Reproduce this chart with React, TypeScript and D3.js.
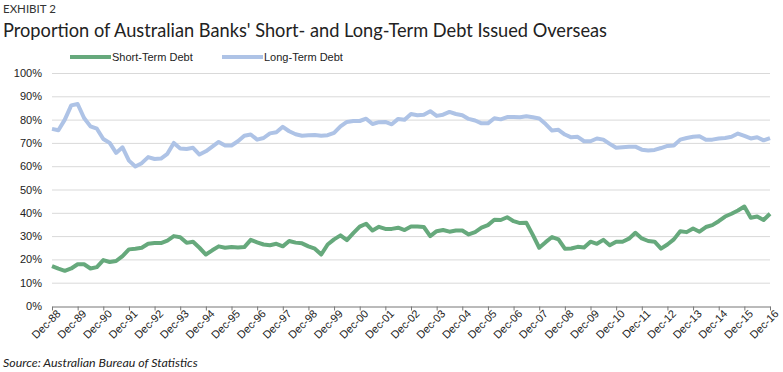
import { useEffect, useRef } from 'react';
import * as d3 from 'd3';

// quarterly, Dec-88 .. Dec-16 (percent of total debt issued overseas)
const shortTerm = [
  17.1, 16, 15.1, 16.1, 17.9, 17.9, 16.1, 16.7, 19.7, 18.9, 19.3, 21.4, 24.3, 24.6, 25, 26.7,
  27, 27, 28.1, 30, 29.5, 27.1, 27.6, 25, 22.1, 23.9, 25.6, 25, 25.3, 25.1, 25.3, 28.4,
  27.3, 26.4, 26.1, 26.7, 25.6, 27.9, 27.2, 26.9, 25.6, 24.6, 22.1, 26.4, 28.6, 30.3, 28.3, 31.3,
  34.1, 35.3, 32.4, 34, 33.1, 33.1, 33.6, 32.6, 34.1, 34.1, 33.9, 30, 32.1, 32.6, 31.9, 32.4,
  32.4, 30.7, 31.7, 33.6, 34.7, 37, 36.9, 38.1, 36.4, 35.6, 35.7, 30.5, 25, 27.4, 29.6, 28.6,
  24.6, 24.7, 25.4, 25.1, 27.6, 26.7, 28.4, 26.1, 27.6, 27.6, 28.9, 31.4, 29, 27.9, 27.6, 24.6,
  26.4, 28.6, 32.1, 31.7, 33.3, 31.9, 33.9, 34.7, 36.4, 38.4, 39.6, 41, 42.7, 37.9, 38.4, 36.9,
  39.6,
];
const longTerm = [
  76, 75.4, 80, 86.1, 86.7, 80.7, 77.1, 76.1, 71.7, 70, 65.7, 68.1, 62.4, 59.9, 61.3, 63.9,
  63.1, 63.3, 65.3, 70, 67.6, 67.4, 67.9, 65, 66.4, 68.4, 70.4, 68.9, 68.9, 70.7, 73.1, 73.6,
  71.4, 72.1, 74.1, 74.6, 76.9, 75, 73.7, 73.1, 73.3, 73.4, 73.1, 73.3, 74.3, 77.1, 79, 79.4,
  79.4, 80.4, 78.1, 78.9, 79, 78, 80.3, 79.9, 82.4, 81.9, 82.1, 83.6, 81.6, 82.1, 83.3, 82.4,
  81.9, 80.3, 79.6, 78.4, 78.4, 80.6, 80.1, 81.1, 81.1, 81, 81.4, 81, 80.5, 78.1, 75.3, 75.6,
  73.6, 72.4, 72.6, 70.7, 70.7, 71.9, 71.4, 69.6, 67.9, 68.1, 68.3, 68.4, 67.1, 66.7, 67, 67.8,
  68.7, 68.9, 71.4, 72.1, 72.6, 72.9, 71.4, 71.4, 71.9, 72.1, 72.6, 74, 73, 71.9, 72.4, 71.1,
  72.1,
];
const yearLabels = d3.range(88, 117).map((y) => `Dec-${String(y % 100).padStart(2, '0')}`);
const yTicks = [0, 10, 20, 30, 40, 50, 60, 70, 80, 90, 100];
const seriesNames = ['Short-Term Debt', 'Long-Term Debt'];

const W = 783;
const H = 372;
const GREEN = '#66a97c';
const BLUE = '#aec3e6';

export default function App() {
  const svgRef = useRef<SVGSVGElement>(null);

  useEffect(() => {
    const svg = d3.select(svgRef.current);
    svg.selectAll('*').remove();

    const margin = { left: 52, right: 13, top: 73, bottom: 66 };
    const x = d3.scaleLinear().domain([0, shortTerm.length - 1]).range([margin.left, W - margin.right]);
    const y = d3.scaleLinear().domain([0, 100]).range([H - margin.bottom, margin.top]);
    const xYear = d3.scalePoint().domain(yearLabels).range([margin.left, W - margin.right]);

    // titles
    svg.append('text').attr('x', 3).attr('y', 13)
      .attr('font-family', 'Lato, sans-serif').attr('font-size', 11.5).attr('fill', '#333')
      .text('EXHIBIT 2');
    svg.append('text').attr('x', 3).attr('y', 37)
      .attr('font-family', 'Lato, sans-serif').attr('font-size', 18.3).attr('fill', '#222')
      .attr('textLength', 604).attr('lengthAdjust', 'spacingAndGlyphs')
      .text("Proportion of Australian Banks' Short- and Long-Term Debt Issued Overseas");

    // legend
    const legend = [
      { name: seriesNames[0], color: GREEN, x0: 70 },
      { name: seriesNames[1], color: BLUE, x0: 222 },
    ];
    legend.forEach((l) => {
      svg.append('line').attr('x1', l.x0).attr('x2', l.x0 + 41).attr('y1', 57).attr('y2', 57)
        .attr('stroke', l.color).attr('stroke-width', 4);
      svg.append('text').attr('x', l.x0 + 42).attr('y', 61)
        .attr('font-family', 'Arial, Liberation Sans, sans-serif').attr('font-size', 11).attr('fill', '#222')
        .text(l.name);
    });

    // gridlines + y labels
    svg.append('g').selectAll('line').data(yTicks.slice(1)).enter().append('line')
      .attr('x1', margin.left).attr('x2', W - margin.right)
      .attr('y1', (d) => y(d) + 0.5).attr('y2', (d) => y(d) + 0.5)
      .attr('stroke', '#d9d9d9').attr('stroke-width', 1);
    svg.append('g').selectAll('text').data(yTicks).enter().append('text')
      .attr('x', 42).attr('y', (d) => y(d) + 4)
      .attr('text-anchor', 'end')
      .attr('font-family', 'Arial, Liberation Sans, sans-serif').attr('font-size', 11).attr('fill', '#222')
      .text((d) => `${d}%`);

    // x axis
    const xAxis = svg.append('g').attr('transform', `translate(0, ${y(0) + 0.5})`)
      .call(d3.axisBottom(xYear).tickSize(4).tickSizeOuter(0));
    xAxis.select('.domain').attr('stroke', '#777');
    xAxis.selectAll('.tick line').attr('stroke', '#777');
    xAxis.selectAll('.tick text')
      .attr('font-family', 'Arial, Liberation Sans, sans-serif').attr('font-size', 11).attr('fill', '#222')
      .attr('text-anchor', 'end')
      .attr('dy', 0)
      .attr('transform', 'translate(4, 3) rotate(-45)');

    // lines
    const line = d3.line<number>().x((_, i) => x(i)).y((d) => y(d));
    svg.append('path').datum(longTerm).attr('d', line).attr('fill', 'none')
      .attr('stroke', BLUE).attr('stroke-width', 4).attr('stroke-linejoin', 'round');
    svg.append('path').datum(shortTerm).attr('d', line).attr('fill', 'none')
      .attr('stroke', GREEN).attr('stroke-width', 4).attr('stroke-linejoin', 'round');

    // source
    svg.append('text').attr('x', 3).attr('y', 367)
      .attr('font-family', 'Lato, sans-serif').attr('font-style', 'italic').attr('font-size', 12.4).attr('fill', '#222')
      .text('Source: Australian Bureau of Statistics');
  }, []);

  return (
    <svg ref={svgRef} width={W} height={H}
      style={{ position: 'absolute', left: 0, top: 0, background: '#fff' }} />
  );
}
